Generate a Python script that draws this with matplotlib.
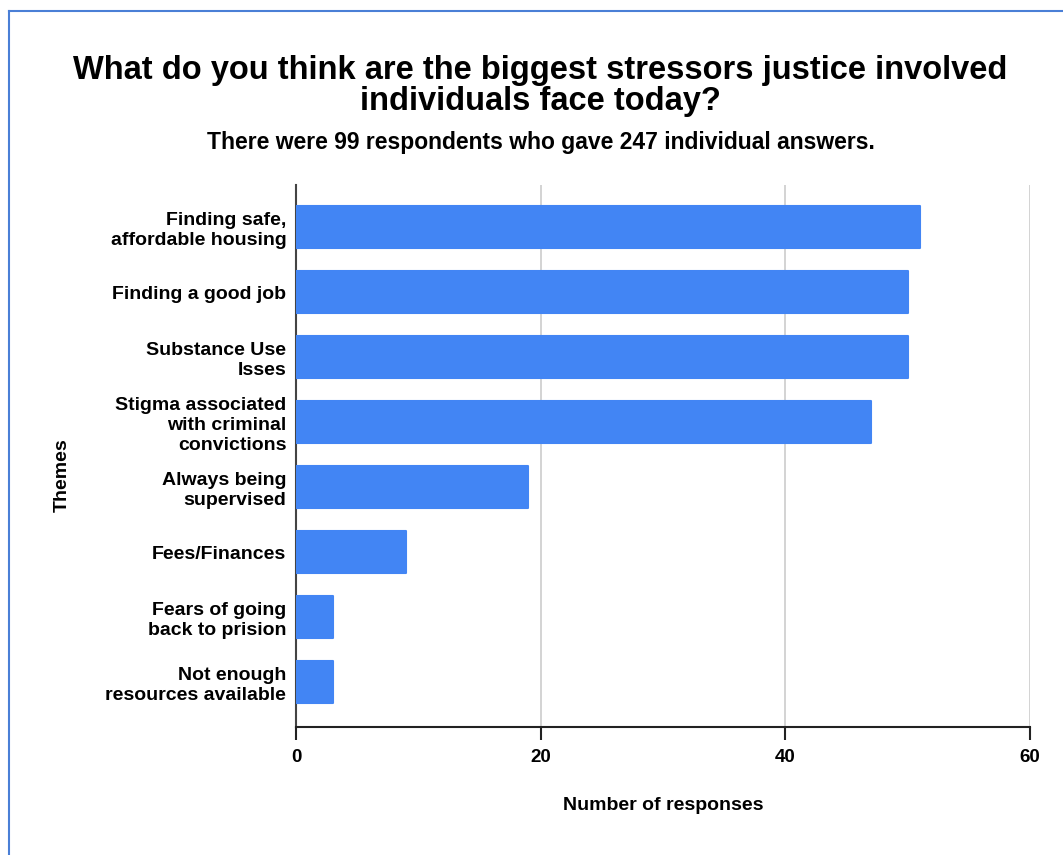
import matplotlib.pyplot as plt
from matplotlib.lines import Line2D

plt.rcParams['font.family'] = ['Liberation Sans', 'DejaVu Sans']

# Survey themes and counts of responses
themes = [
    "Finding safe,\naffordable housing",
    "Finding a good job",
    "Substance Use\nIsses",
    "Stigma associated\nwith criminal\nconvictions",
    "Always being\nsupervised",
    "Fees/Finances",
    "Fears of going\nback to prision",
    "Not enough\nresources available",
]
responses = [51, 50, 50, 47, 19, 9, 3, 3]
x_ticks = [0, 20, 40, 60]

bar_color = "#4285F4"

fig = plt.figure(figsize=(10.63, 8.55), dpi=100)
W, H = 1063, 855
ax = fig.add_axes([296 / W, 1 - 727 / H, (1030 - 296) / W, (727 - 185) / H])

pos = list(range(len(themes)))
ax.barh(pos, responses, height=0.646, color=bar_color, edgecolor=bar_color,
        linewidth=1.5, joinstyle="round", zorder=3)

ax.set_xlim(0, 60)
ax.set_ylim(7.69, -0.646)
ax.set_xticks(x_ticks)
ax.set_xticklabels([str(t) for t in x_ticks], fontsize=13.5, fontweight="bold")
ax.set_yticks(pos)
ax.set_yticklabels(themes, fontsize=14, fontweight="bold", linespacing=1.25)
for lbl in ax.get_yticklabels():
    lbl.set_multialignment("right")

ax.tick_params(axis="x", length=9, width=1.5, color="#222222", pad=7)
ax.tick_params(axis="y", length=0, pad=7)

ax.grid(axis="x", color="#cccccc", linewidth=1.2, zorder=0)
for side in ("top", "right"):
    ax.spines[side].set_visible(False)
ax.spines["bottom"].set_color("#222222")
ax.spines["bottom"].set_linewidth(1.5)
ax.spines["left"].set_color("#444444")
ax.spines["left"].set_linewidth(1.5)

# Titles and axis names
fig.text(540 / W, 1 - 86 / H, "What do you think are the biggest stressors justice involved\nindividuals face today?",
         ha="center", va="center", fontsize=23.5, fontweight="bold", linespacing=1.0)
fig.text(541 / W, 1 - 143 / H, "There were 99 respondents who gave 247 individual answers.",
         ha="center", va="center", fontsize=16.5, fontweight="bold")
fig.text(663 / W, 1 - 805 / H, "Number of responses", ha="center", va="center",
         fontsize=14, fontweight="bold")
fig.text(62 / W, 1 - 475 / H, "Themes", ha="center", va="center", rotation=90,
         fontsize=14, fontweight="bold")

# Frame around the chart
fig.add_artist(Line2D([9 / W, 9 / W], [0, 1 - 11 / H], transform=fig.transFigure,
                      color="#4a7fd6", linewidth=1.5))
fig.add_artist(Line2D([9 / W, 1], [1 - 11 / H, 1 - 11 / H], transform=fig.transFigure,
                      color="#4a7fd6", linewidth=1.5))

fig.savefig("out.png", dpi=100)
